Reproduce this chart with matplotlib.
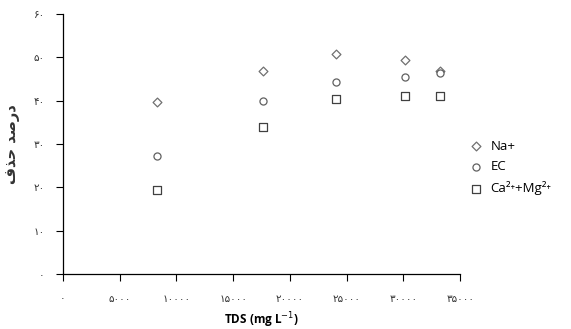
import matplotlib.pyplot as plt

# TDS values (mg/L) and removal percentages
tds = [8300, 17600, 24100, 30100, 33200]
na_removal = [39.8, 46.9, 50.8, 49.5, 46.9]
ec_removal = [27.2, 40.0, 44.3, 45.5, 46.5]
ca_mg_removal = [19.5, 33.9, 40.3, 41.1, 41.1]

x_ticks = [0, 5000, 10000, 15000, 20000, 25000, 30000, 35000]
y_ticks = [0, 10, 20, 30, 40, 50, 60]

PERSIAN = str.maketrans('0123456789', '۰۱۲۳۴۵۶۷۸۹')


def fa(n):
    return str(n).translate(PERSIAN)


# "درصد حذف" in pre-shaped presentation forms, visual order
ylabel_fa = '\uFED1\uFEAC\uFEA3 \uFEAA\uFEBB\uFEAD\uFEA9'

plt.rcParams['font.family'] = ['DejaVu Sans', 'Noto Sans']

fig = plt.figure(figsize=(5.71, 3.29), dpi=100)
ax = fig.add_axes([0.110, 0.167, 0.696, 0.790])

ax.scatter(tds, na_removal, marker='D', s=20, facecolors='white',
           edgecolors='#707070', linewidths=0.9, label='Na+', zorder=3)
ax.scatter(tds, ec_removal, marker='o', s=26, facecolors='white',
           edgecolors='#606060', linewidths=0.9, label='EC', zorder=3)
ax.scatter(tds, ca_mg_removal, marker='s', s=26, facecolors='white',
           edgecolors='#404040', linewidths=0.9,
           label='Ca²⁺+Mg²⁺', zorder=3)

ax.set_xlim(0, 35000)
ax.set_ylim(0, 60)
ax.set_xticks(x_ticks)
ax.set_xticklabels([fa(t) for t in x_ticks], fontsize=7.5, color='#333333')
ax.set_yticks(y_ticks)
ax.set_yticklabels([fa(t) for t in y_ticks], fontsize=7.5, color='#333333')

for side in ['top', 'right']:
    ax.spines[side].set_visible(False)
for side in ['left', 'bottom']:
    ax.spines[side].set_color('black')
    ax.spines[side].set_linewidth(0.9)

ax.tick_params(axis='x', direction='out', length=5, width=0.8, pad=9)
ax.tick_params(axis='y', direction='out', length=5, width=0.8, pad=8)

ax.set_xlabel('TDS (mg L$^{-1}$)', fontsize=8.5, fontweight='bold',
              family=['Open Sans', 'DejaVu Sans'], labelpad=5)
ax.set_ylabel(ylabel_fa, fontsize=10.5, fontweight='bold', labelpad=10,
              color='#333333')

ax.legend(loc='center left', bbox_to_anchor=(0.99, 0.41), frameon=False,
          handletextpad=0.5, labelspacing=0.6, handlelength=1.2,
          prop={'family': ['Open Sans', 'DejaVu Sans'], 'size': 9.5})

fig.savefig('out.png', dpi=100)
